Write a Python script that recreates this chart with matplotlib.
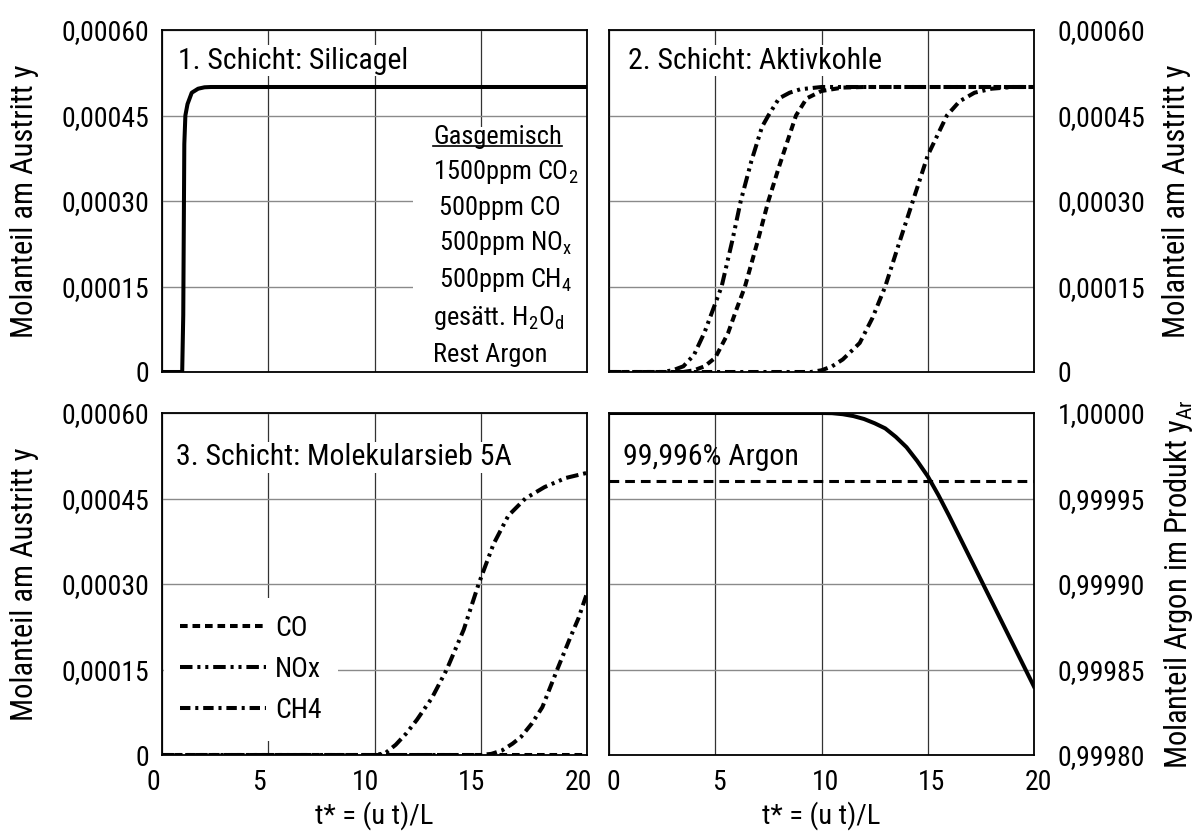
import matplotlib
matplotlib.use("Agg")
import matplotlib.pyplot as plt
from matplotlib import font_manager
from matplotlib.transforms import ScaledTranslation, IdentityTransform
from matplotlib.patches import Rectangle
from matplotlib.lines import Line2D

# ---- data ----
t_sil = [0, 0.95, 1.0, 1.05, 1.1, 1.2, 1.4, 1.7, 2.0, 2.3, 3.0, 20]
y_sil = [0, 0, 0.00010, 0.00040, 0.00045, 0.00047, 0.00049, 0.000497, 0.0004995, 0.0005, 0.0005, 0.0005]

t_ak_nox = [0, 2.5, 3.0, 3.5, 4.0, 4.5, 5.0, 5.3, 5.8, 6.2, 6.7, 7.2, 7.5, 8.0, 8.5, 9.0, 10, 12, 20]
y_ak_nox = [0, 0, 0.000003, 0.00001, 0.00003, 0.00007, 0.00012, 0.00015, 0.00023, 0.0003, 0.00037,
            0.00043, 0.00045, 0.00048, 0.00049, 0.000496, 0.0005, 0.0005, 0.0005]
t_ak_co = [0, 3.5, 4.0, 4.5, 5.0, 5.6, 6.0, 6.4, 7.0, 7.5, 8.0, 8.8, 9.3, 10, 11, 12, 20]
y_ak_co = [0, 0, 0.000003, 0.00001, 0.000025, 0.000068, 0.00011, 0.00015, 0.00023, 0.0003, 0.00036,
           0.00045, 0.00048, 0.000493, 0.000499, 0.0005, 0.0005]
t_ak_ch4 = [0, 9.5, 10.0, 10.5, 11.0, 11.5, 11.8, 12.4, 13.0, 13.6, 14.3, 15.0, 15.9, 16.5, 17.2, 18.0, 19, 20]
y_ak_ch4 = [0, 0, 0.000003, 0.00001, 0.000022, 0.00004, 0.000051, 0.000095, 0.00015, 0.00022, 0.0003,
            0.00038, 0.00045, 0.000475, 0.00049, 0.000497, 0.0005, 0.0005]

t_ms_co = [0, 20]
y_ms_co = [0, 0]
t_ms_nox = [0, 10.0, 10.5, 11.0, 11.5, 12.0, 12.7, 13.4, 14.2, 14.9, 15.6, 16.3, 17.1, 18.0, 19.0, 20]
y_ms_nox = [0, 0, 0.000003, 0.000018, 0.000038, 0.000062, 0.0001, 0.00015, 0.00022, 0.0003, 0.00037,
            0.00042, 0.00045, 0.00047, 0.000486, 0.000495]
t_ms_ch4 = [0, 15.0, 15.5, 16.0, 16.5, 16.9, 17.4, 17.9, 18.6, 19.2, 19.6, 20]
y_ms_ch4 = [0, 0, 0.000002, 0.000008, 0.00002, 0.000032, 0.000055, 0.000084, 0.00015, 0.000205, 0.00024, 0.000284]

t_ar = [0, 10, 10.5, 11, 11.5, 12, 12.5, 13, 13.5, 14, 14.5, 15, 15.5, 16, 17, 18, 19, 20]
y_ar = [1.0, 1.0, 0.9999999, 0.9999993, 0.9999982, 0.9999965, 0.999994, 0.999991, 0.999986, 0.99998,
        0.999972, 0.999963, 0.999952, 0.99994, 0.999915, 0.99989, 0.999865, 0.99984]
y_ar_limit = 0.99996

x_ticks = [0, 5, 10, 15, 20]
y_ticks = [0, 0.00015, 0.0003, 0.00045, 0.0006]
y_ticklabels = ["0", "0,00015", "0,00030", "0,00045", "0,00060"]
ar_ticks = [0.9998, 0.99985, 0.9999, 0.99995, 1.0]
ar_ticklabels = ["0,99980", "0,99985", "0,99990", "0,99995", "1,00000"]

gas_lines = ["1500ppm CO$_2$", " 500ppm CO", " 500ppm NO$_x$", " 500ppm CH$_4$",
             "gesätt. H$_2$O$_d$", "Rest Argon"]

# ---- fonts ----
names = {f.name for f in font_manager.fontManager.ttflist}
if "Roboto Condensed" in names:
    plt.rcParams["font.family"] = ["Roboto Condensed", "DejaVu Sans"]
else:
    plt.rcParams["font.family"] = ["DejaVu Sans"]
    plt.rcParams["font.stretch"] = "condensed"
plt.rcParams["mathtext.default"] = "regular"
plt.rcParams["lines.scale_dashes"] = False

FS_TICK = 20
FS_LAB = 22
FS_TXT = 21.5
FS_GAS = 19
LW = 2.9
ls_co = (0, (5.5, 3.5))
ls_nox = (0, (9, 3.5, 2.2, 3.5, 2.2, 3.5))
ls_ch4 = (0, (7.5, 3.5, 2.2, 3.5))

fig = plt.figure(figsize=(12.02, 8.32), dpi=100)
W, H = 1202.0, 832.0
lx, rx, aw = 162, 609, 425
ty, by, ah = 30, 413, 342


def make_ax(x, y):
    return fig.add_axes([x / W, (H - y - ah) / H, aw / W, ah / H])


def style(ax, yt, ytl, right=False, bottom=False):
    ax.set_xlim(0, 20)
    ax.set_ylim(yt[0], yt[-1])
    ax.set_xticks(x_ticks)
    ax.set_yticks(yt)
    ax.set_yticklabels(ytl)
    ax.tick_params(length=0, labelsize=FS_TICK, pad=9)
    if right:
        ax.yaxis.tick_right()
        ax.yaxis.set_label_position("right")
        ax.tick_params(axis="y", pad=17)
    if bottom:
        ax.set_xticklabels([str(v) for v in x_ticks])
        ax.tick_params(axis="x", pad=10)
        dx = 4 if right else -9
        off = ScaledTranslation(dx / 100, 0, fig.dpi_scale_trans)
        for lab in ax.get_xticklabels():
            lab.set_transform(lab.get_transform() + off)
        ax.set_xlabel("t* = (u t)/L", fontsize=20.5, labelpad=4)
    else:
        ax.set_xticklabels([])
    ax.grid(axis="y", color="#8a8a8a", lw=1.0, zorder=0)
    ax.grid(axis="x", color="#333333", lw=0.9, zorder=0)
    ax.set_axisbelow(True)
    for s in ax.spines.values():
        s.set_linewidth(1.3)


title_box = dict(facecolor="white", edgecolor="none", pad=1)

# 1. Schicht
ax1 = make_ax(lx, ty)
style(ax1, y_ticks, y_ticklabels)
ax1.set_ylabel("Molanteil am Austritt y", fontsize=FS_LAB, labelpad=16)
ax1.plot(t_sil, y_sil, color="black", lw=LW, zorder=3)
ax1.text(0.038, 0.91, "1. Schicht: Silicagel", transform=ax1.transAxes, fontsize=FS_TXT,
         va="center", ha="left", bbox=title_box, zorder=4)
ax1.add_patch(Rectangle((0.59, 0.0), 0.41, 0.716, transform=ax1.transAxes,
                        facecolor="white", edgecolor="none", zorder=2))
gas_title = ax1.text(0.638, 0.687, "Gasgemisch", transform=ax1.transAxes, fontsize=FS_GAS,
                     va="center", ha="left", zorder=4)
gas_y = [0.585, 0.480, 0.377, 0.269, 0.158, 0.050]
for txt, yy in zip(gas_lines, gas_y):
    ax1.text(0.638, yy, txt, transform=ax1.transAxes, fontsize=FS_GAS, va="center",
             ha="left", zorder=4)

# 2. Schicht
ax2 = make_ax(rx, ty)
style(ax2, y_ticks, y_ticklabels, right=True)
ax2.set_ylabel("Molanteil am Austritt y", fontsize=FS_LAB, labelpad=12)
ax2.plot(t_ak_nox, y_ak_nox, color="black", lw=LW, ls=ls_nox, zorder=3)
ax2.plot(t_ak_co, y_ak_co, color="black", lw=LW, ls=ls_co, zorder=3)
ax2.plot(t_ak_ch4, y_ak_ch4, color="black", lw=LW, ls=ls_ch4, zorder=3)
ax2.text(0.045, 0.91, "2. Schicht: Aktivkohle", transform=ax2.transAxes, fontsize=FS_TXT,
         va="center", ha="left", bbox=title_box, zorder=4)

# 3. Schicht
ax3 = make_ax(lx, by)
style(ax3, y_ticks, y_ticklabels, bottom=True)
ax3.set_ylabel("Molanteil am Austritt y", fontsize=FS_LAB, labelpad=16)
l_co, = ax3.plot(t_ms_co, y_ms_co, color="black", lw=LW, ls=ls_co, zorder=3)
l_nox, = ax3.plot(t_ms_nox, y_ms_nox, color="black", lw=LW, ls=ls_nox, zorder=3)
l_ch4, = ax3.plot(t_ms_ch4, y_ms_ch4, color="black", lw=LW, ls=ls_ch4, zorder=3)
ax3.text(0.033, 0.87, "3. Schicht: Molekularsieb 5A", transform=ax3.transAxes, fontsize=FS_TXT,
         va="center", ha="left", bbox=title_box, zorder=4)
leg = ax3.legend([l_co, l_nox, l_ch4], ["CO", "NOx", "CH4"], loc="center left",
                 bbox_to_anchor=(0.004, 0.25), borderaxespad=0, fontsize=20,
                 handlelength=3.1, handletextpad=0.3, labelspacing=0.5,
                 borderpad=0.6, frameon=True, fancybox=False)
leg.get_frame().set_facecolor("white")
leg.get_frame().set_edgecolor("none")
leg.get_frame().set_alpha(1)
leg.set_zorder(2.4)

# Produkt
ax4 = make_ax(rx, by)
style(ax4, ar_ticks, ar_ticklabels, right=True, bottom=True)
ax4.set_ylabel("Molanteil Argon im Produkt y$_{Ar}$", fontsize=FS_LAB, labelpad=12)
ax4.plot(t_ar, y_ar, color="black", lw=LW, zorder=3)
ax4.axhline(y_ar_limit, color="black", lw=2.2, ls=(0, (7, 4.3)), zorder=3)
ax4.text(0.033, 0.87, "99,996% Argon", transform=ax4.transAxes, fontsize=FS_TXT,
         va="center", ha="left", zorder=4)

# underline "Gasgemisch"
fig.canvas.draw()
bb = gas_title.get_window_extent()
fig.add_artist(Line2D([bb.x0, bb.x1], [bb.y0 + 3, bb.y0 + 3], color="black", lw=1.2,
                      transform=IdentityTransform()))

fig.savefig("out.png", dpi=100)
